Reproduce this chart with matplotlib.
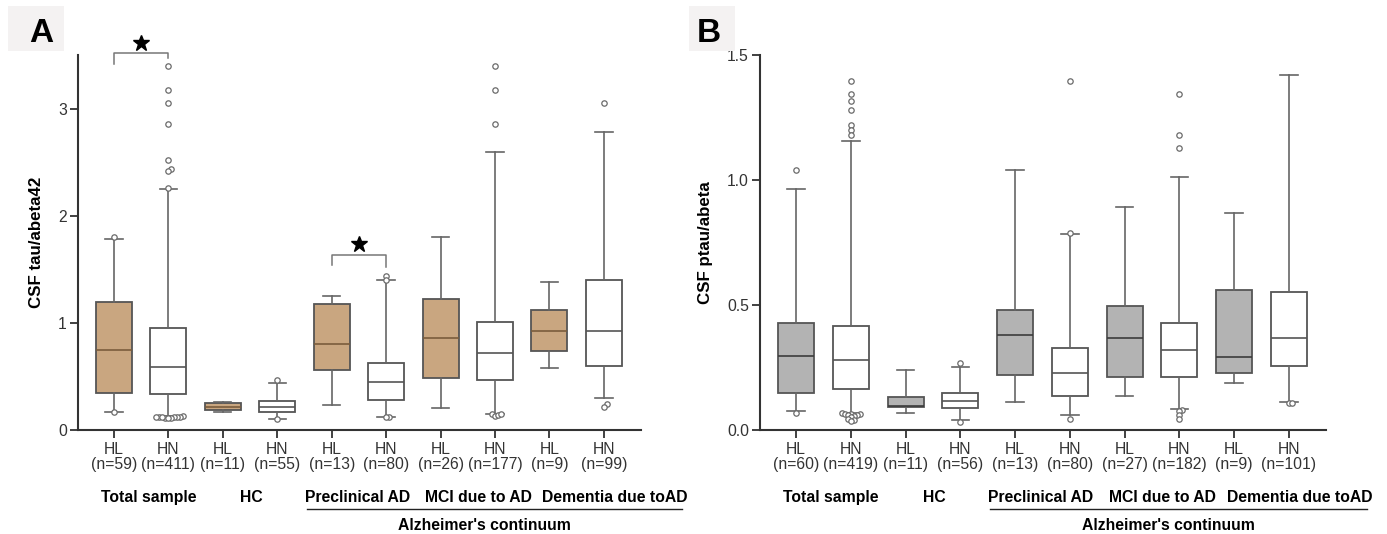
import numpy as np
import matplotlib
matplotlib.use("Agg")
import matplotlib.pyplot as plt
from matplotlib.patches import Rectangle

plt.rcParams['font.family'] = ['Liberation Sans', 'DejaVu Sans']

groups = ["HL", "HN"] * 5
categories = ["Total sample", "HC", "Preclinical AD", "MCI due to AD", "Dementia due toAD"]
super_category = "Alzheimer's continuum"

# Panel A: CSF tau/abeta42
n_a = [59, 411, 11, 55, 13, 80, 26, 177, 9, 99]
whislo_a = [0.165, 0.13, 0.165, 0.105, 0.235, 0.117, 0.203, 0.15, 0.578, 0.30]
q1_a = [0.34, 0.333, 0.185, 0.168, 0.56, 0.276, 0.483, 0.463, 0.74, 0.597]
med_a = [0.75, 0.587, 0.216, 0.216, 0.80, 0.45, 0.857, 0.714, 0.92, 0.927]
q3_a = [1.19, 0.955, 0.25, 0.27, 1.175, 0.62, 1.22, 1.003, 1.117, 1.397]
whishi_a = [1.78, 2.25, 0.263, 0.435, 1.25, 1.40, 1.80, 2.59, 1.38, 2.78]
fliers_a = [
    [1.80, 0.165],
    [3.40, 3.17, 3.05, 2.86, 2.52, 2.44, 2.42, 2.26,
     0.125, 0.122, 0.12, 0.12, 0.118, 0.115, 0.112, 0.12, 0.122, 0.11],
    [],
    [0.47, 0.10],
    [],
    [1.435, 1.40, 0.117, 0.117],
    [],
    [3.40, 3.17, 2.86, 0.145, 0.13, 0.135, 0.145],
    [],
    [3.05, 0.24, 0.216],
]
# significance brackets (pair of box indices)
sig_a = [(0, 1), (4, 5)]

# Panel B: CSF ptau/abeta
n_b = [60, 419, 11, 56, 13, 80, 27, 182, 9, 101]
whislo_b = [0.076, 0.068, 0.068, 0.041, 0.112, 0.059, 0.136, 0.082, 0.188, 0.113]
q1_b = [0.147, 0.163, 0.093, 0.087, 0.221, 0.136, 0.213, 0.21, 0.226, 0.257]
med_b = [0.296, 0.279, 0.097, 0.116, 0.379, 0.229, 0.369, 0.319, 0.293, 0.369]
q3_b = [0.426, 0.417, 0.131, 0.147, 0.478, 0.328, 0.497, 0.426, 0.561, 0.55]
whishi_b = [0.962, 1.154, 0.24, 0.252, 1.04, 0.783, 0.89, 1.01, 0.866, 1.418]
fliers_b = [
    [1.04, 0.068],
    [1.394, 1.342, 1.315, 1.281, 1.219, 1.20, 1.178,
     0.066, 0.063, 0.062, 0.062, 0.06, 0.058, 0.055, 0.05, 0.045, 0.04, 0.035],
    [],
    [0.266, 0.031],
    [],
    [1.394, 0.787, 0.045],
    [],
    [1.342, 1.178, 1.129, 0.079, 0.075, 0.061, 0.045],
    [],
    [0.106, 0.106],
]

EDGE = "#555555"
SPINE = "#333333"
FS = 11.3


def swarm_offsets(values, px_per_y, px_per_x, min_dist=3.0, step=3.0):
    # simple beeswarm so overlapping outliers spread sideways
    placed = []
    offsets = {}
    order = np.argsort(values)
    for i in order:
        y = values[i] * px_per_y
        k = 0
        while True:
            cand = [0.0] if k == 0 else [k * step, -k * step]
            ok = None
            for c in cand:
                if all((c - px) ** 2 + (y - py) ** 2 >= min_dist ** 2 - 1e-9 for px, py in placed):
                    ok = c
                    break
            if ok is not None:
                placed.append((ok, y))
                offsets[i] = ok / px_per_x
                break
            k += 1
    return [offsets[i] for i in range(len(values))]


def draw_panel(ax, whislo, q1, med, q3, whishi, fliers, n, fill, med_color, ymax, yticks, ylabel):
    pos = np.arange(len(groups))
    stats = []
    for i in range(len(groups)):
        stats.append(dict(whislo=whislo[i], q1=q1[i], med=med[i], q3=q3[i],
                          whishi=whishi[i], fliers=[]))
    bp = ax.bxp(stats, positions=pos, widths=0.66, capwidths=0.32, patch_artist=True,
                showfliers=False,
                boxprops=dict(edgecolor=EDGE, linewidth=1.3),
                whiskerprops=dict(color="#666666", linewidth=1.2),
                capprops=dict(color="#666666", linewidth=1.2),
                medianprops=dict(color=EDGE, linewidth=1.2))
    for i, box in enumerate(bp["boxes"]):
        if groups[i] == "HL":
            box.set_facecolor(fill)
            bp["medians"][i].set_color(med_color)
        else:
            box.set_facecolor("white")

    ax.set_xlim(-0.66, 9.68)
    ax.set_ylim(0, ymax)
    px_per_y = 375.0 / ymax
    px_per_x = 54.6
    for i, fl in enumerate(fliers):
        if not fl:
            continue
        offs = swarm_offsets(np.array(fl), px_per_y, px_per_x)
        ax.scatter(pos[i] + np.array(offs), fl, s=15, facecolors="white",
                   edgecolors="#6a6a6a", linewidths=0.9, zorder=4, clip_on=False)

    ax.set_yticks(yticks)
    ax.set_xticks(pos)
    ax.set_xticklabels([f"{g}\n(n={k})" for g, k in zip(groups, n)], linespacing=1.0)
    ax.tick_params(axis="both", labelsize=FS, colors=SPINE, length=6, width=1.3)
    ax.tick_params(axis="x", pad=3)
    ax.tick_params(axis="y", pad=2)
    for s in ["top", "right"]:
        ax.spines[s].set_visible(False)
    for s in ["left", "bottom"]:
        ax.spines[s].set_color(SPINE)
        ax.spines[s].set_linewidth(1.5)
    ax.set_ylabel(ylabel, fontsize=12.2, fontweight="bold", labelpad=10)

    tr = ax.get_xaxis_transform()
    cat_x = [0.64, 2.53, 4.47, 6.7, 9.2]
    for cx, label in zip(cat_x, categories):
        ax.text(cx, -0.18, label, transform=tr, ha="center", va="center",
                fontsize=FS, fontweight="bold", clip_on=False)
    ax.plot([3.55, 10.43], [-0.212, -0.212], transform=tr, color="#222222",
            linewidth=1.0, clip_on=False)
    ax.text(6.81, -0.254, super_category, transform=tr, ha="center", va="center",
            fontsize=FS, fontweight="bold", clip_on=False)


fig = plt.figure(figsize=(13.87, 5.34), dpi=100)
ax_a = fig.add_axes([0.0562, 0.195, 0.4059, 0.702])
ax_b = fig.add_axes([0.548, 0.195, 0.408, 0.702])

draw_panel(ax_a, whislo_a, q1_a, med_a, q3_a, whishi_a, fliers_a, n_a,
           "#c9a680", "#7a5c3c", 3.5, [0, 1, 2, 3], "CSF tau/abeta42")
draw_panel(ax_b, whislo_b, q1_b, med_b, q3_b, whishi_b, fliers_b, n_b,
           "#b3b3b3", "#3c3c3c", 1.5, [0.0, 0.5, 1.0, 1.5], "CSF ptau/abeta")
ax_b.set_yticklabels(["0.0", "0.5", "1.0", "1.5"])

# significance brackets on panel A
for i, j in sig_a:
    if (i, j) == (0, 1):
        yb, yl, yr, ys = 3.52, 3.42, 3.47, 3.61
    else:
        yb, yl, yr, ys = 1.635, 1.54, 1.52, 1.74
    ax_a.plot([i, i, j, j], [yl, yb, yb, yr], color="#777777", linewidth=1.1, clip_on=False)
    ax_a.plot([(i + j) / 2], [ys], marker="*", color="black", markersize=12, clip_on=False)

# panel letters
for x0, w, letter, tx in [(0.006, 0.040, "A", 0.030), (0.497, 0.033, "B", 0.511)]:
    fig.add_artist(Rectangle((x0, 0.905), w, 0.083, transform=fig.transFigure,
                             facecolor="#f4f2f2", edgecolor="none"))
    fig.text(tx, 0.938, letter, fontsize=24, fontweight="bold", ha="center", va="center")

fig.savefig("out.png", dpi=100)
